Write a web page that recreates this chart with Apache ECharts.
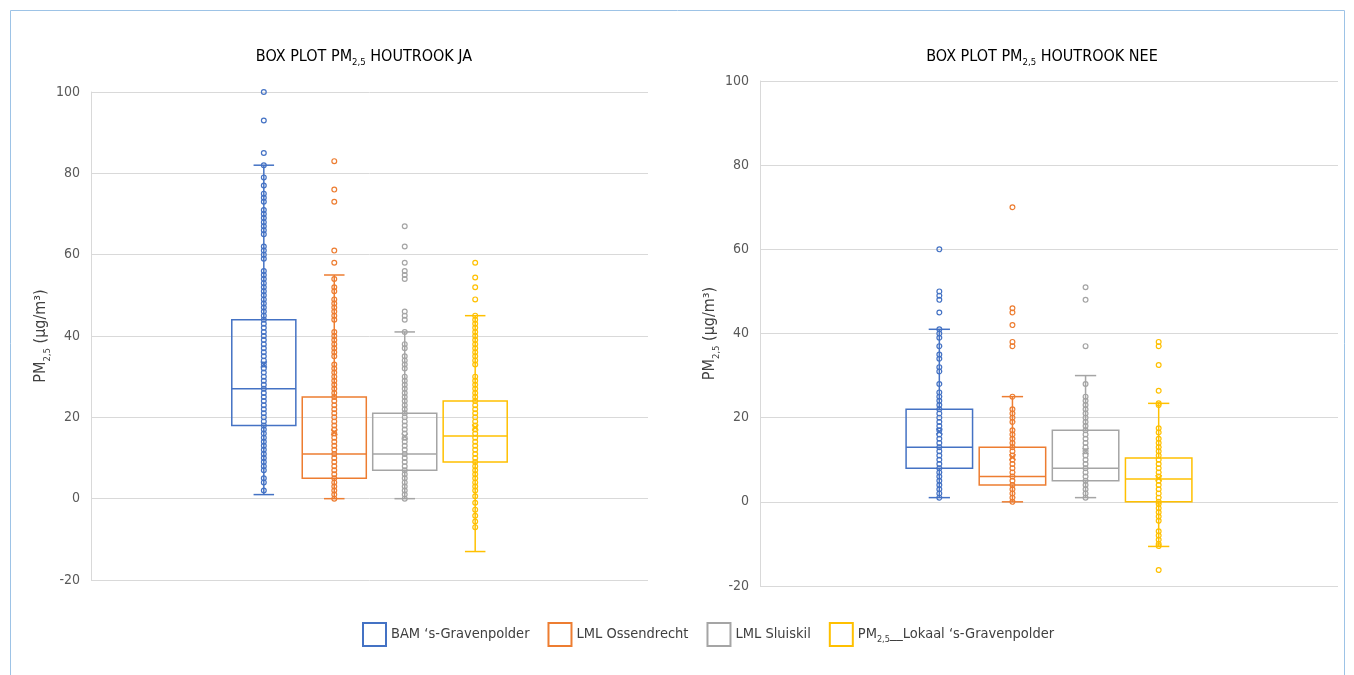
<!DOCTYPE html>
<html>
<head>
<meta charset="utf-8">
<script src="https://cdn.jsdelivr.net/npm/echarts@6/dist/echarts.min.js"></script>
<style>
html, body { margin: 0; padding: 0; background: #ffffff; }
#chart { width: 1354px; height: 675px; }
</style>
</head>
<body>
<div id="chart"></div>
<script>
// ---------- data ----------
const stations = ["BAM \u2018s-Gravenpolder", "LML Ossendrecht", "LML Sluiskil", "PM2,5__Lokaal \u2018s-Gravenpolder"];
const panelCategories = ["Houtrook ja", "Houtrook nee"];
const yTickLabels = [-20, 0, 20, 40, 60, 80, 100];

// Houtrook ja
const jaWhiskerLow  = [1, 0, 0, -13];
const jaQ1          = [18, 5, 7, 9];
const jaMedian      = [27, 11, 11, 15.4];
const jaQ3          = [44, 25, 21, 24];
const jaWhiskerHigh = [82, 55, 41, 45];
const jaMean        = [33, 16.3, 15.3, 17.5];

const jaPointsBAM = [2, 4, 5, 7, 8, 9, 10, 11, 12, 13, 14, 15, 16, 17, 18, 19, 20, 21, 22, 23, 24, 25, 26, 27, 28, 29, 30, 31, 32, 33, 34, 35, 36, 37, 38, 39, 40, 41, 42, 43, 44, 45, 46, 47, 48, 49, 50, 51, 52, 53, 54, 55, 56, 59, 60, 61, 62, 65, 66, 67, 68, 69, 70, 71, 73, 74, 75, 77, 79, 82, 85, 93, 100];
const jaPointsOssendrecht = [0, 1, 2, 3, 4, 5, 6, 7, 8, 9, 10, 11, 12, 13, 14, 15, 16, 17, 18, 19, 20, 21, 22, 23, 24, 25, 26, 27, 28, 29, 30, 31, 32, 33, 35, 36, 37, 38, 39, 40, 41, 44, 45, 46, 47, 48, 49, 51, 52, 54, 58, 61, 73, 76, 83];
const jaPointsSluiskil = [0, 1, 2, 3, 4, 5, 6, 7, 8, 9, 10, 11, 12, 13, 14, 15, 16, 17, 18, 19, 20, 21, 22, 23, 24, 25, 26, 27, 28, 29, 30, 32, 33, 34, 35, 37, 38, 41, 44, 45, 46, 54, 55, 56, 58, 62, 67];
const jaPointsLokaal = [-7, -5.6, -4.2, -2.7, -1, 0.6, 2, 3, 4, 5, 6, 7, 8, 9, 10, 11, 12, 13, 14, 15, 16, 17, 18, 19, 20, 21, 22, 23, 24, 25, 26, 27, 28, 29, 30, 33, 34, 35, 36, 37, 38, 39, 40, 41, 42, 43, 44, 45, 49, 52, 54.4, 58];

// Houtrook nee
const neeWhiskerLow  = [1, 0, 1, -10.6];
const neeQ1          = [8, 4, 5, 0];
const neeMedian      = [13, 6, 8, 5.4];
const neeQ3          = [22, 13, 17, 10.4];
const neeWhiskerHigh = [41, 25, 30, 23.4];
const neeMean        = [16.7, 10.6, 12, 5.6];

const neePointsBAM = [1, 2, 3, 4, 5, 6, 7, 8, 9, 10, 11, 12, 13, 14, 15, 16, 17, 18, 19, 20, 21, 22, 23, 24, 25, 26, 28, 31, 32, 34, 35, 37, 39, 40, 41, 45, 48, 49, 50, 60];
const neePointsOssendrecht = [0, 1, 2, 3, 4, 5, 6, 7, 8, 9, 10, 11, 12, 13, 14, 15, 16, 17, 19, 20, 21, 22, 25, 37, 38, 42, 45, 46, 70];
const neePointsSluiskil = [1, 2, 3, 4, 5, 6, 7, 8, 9, 10, 11, 12, 13, 14, 15, 16, 17, 18, 19, 20, 21, 22, 23, 24, 25, 28, 37, 48, 51];
const neePointsLokaal = [-16.2, -10.5, -10, -9, -8, -7, -4.5, -3.5, -2.5, -1.5, -0.5, 0, 1, 2, 3, 4, 5, 6, 7, 8, 9, 10, 11, 12, 13, 14, 15, 16.5, 17.5, 23, 23.4, 26.4, 32.5, 37, 38];

// ---------- styling ----------
const colors = ["#4472C4", "#ED7D31", "#A5A5A5", "#FFC000"];
const FONT = "'Liberation Sans Narrow', 'DejaVu Sans Condensed', 'Roboto', sans-serif";
const TEXT = "#404040";
const LABEL = "#595959";
const GRIDLINE = "#D9D9D9";
const OFFSET = 0.1265;   // spacing between boxes as fraction of band
const BOXW = 0.115;      // box width as fraction of band
const CAPW = 0.32;       // whisker cap as fraction of box width

const panels = [
  { low: jaWhiskerLow, q1: jaQ1, med: jaMedian, q3: jaQ3, high: jaWhiskerHigh, mean: jaMean,
    points: [jaPointsBAM, jaPointsOssendrecht, jaPointsSluiskil, jaPointsLokaal] },
  { low: neeWhiskerLow, q1: neeQ1, med: neeMedian, q3: neeQ3, high: neeWhiskerHigh, mean: neeMean,
    points: [neePointsBAM, neePointsOssendrecht, neePointsSluiskil, neePointsLokaal] }
];

function st(i, w) {
  return { stroke: colors[i], lineWidth: w, fill: 'none' };
}

function makeBoxRender(i) {
  return function (params, api) {
    const band = api.size([1, 0])[0];
    const cat = api.value(0);
    const cx = api.coord([cat, 0])[0] + (i - 1.5) * band * OFFSET;
    const w = band * BOXW, cw = w * CAPW;
    const y = k => api.coord([cat, api.value(k)])[1];
    const yLow = y(1), yQ1 = y(2), yMed = y(3), yQ3 = y(4), yHigh = y(5), yMean = y(6);
    const m = 3;
    return {
      type: 'group',
      children: [
        { type: 'line', shape: { x1: cx, y1: yQ3, x2: cx, y2: yHigh }, style: st(i, 1.5) },
        { type: 'line', shape: { x1: cx - cw / 2, y1: yHigh, x2: cx + cw / 2, y2: yHigh }, style: st(i, 1.5) },
        { type: 'line', shape: { x1: cx, y1: yQ1, x2: cx, y2: yLow }, style: st(i, 1.5) },
        { type: 'line', shape: { x1: cx - cw / 2, y1: yLow, x2: cx + cw / 2, y2: yLow }, style: st(i, 1.5) },
        { type: 'rect', shape: { x: cx - w / 2, y: yQ3, width: w, height: yQ1 - yQ3 }, style: st(i, 1.5) },
        { type: 'line', shape: { x1: cx - w / 2, y1: yMed, x2: cx + w / 2, y2: yMed }, style: st(i, 1.5) },
        { type: 'line', shape: { x1: cx - m, y1: yMean - m, x2: cx + m, y2: yMean + m }, style: st(i, 1.5) },
        { type: 'line', shape: { x1: cx - m, y1: yMean + m, x2: cx + m, y2: yMean - m }, style: st(i, 1.5) }
      ]
    };
  };
}

function makePointRender(i) {
  return function (params, api) {
    const band = api.size([1, 0])[0];
    const p = api.coord([api.value(0), api.value(1)]);
    return {
      type: 'circle',
      shape: { cx: p[0] + (i - 1.5) * band * OFFSET, cy: p[1], r: 2.4 },
      style: st(i, 1.2)
    };
  };
}

const series = [];
panels.forEach((pn, g) => {
  stations.forEach((name, i) => {
    series.push({
      type: 'custom', name: name, xAxisIndex: g, yAxisIndex: g,
      itemStyle: { color: colors[i] },
      renderItem: makeBoxRender(i),
      data: [[0, pn.low[i], pn.q1[i], pn.med[i], pn.q3[i], pn.high[i], pn.mean[i]]],
      z: 3, silent: true
    });
    series.push({
      type: 'custom', name: name, xAxisIndex: g, yAxisIndex: g,
      itemStyle: { color: colors[i] },
      renderItem: makePointRender(i),
      data: pn.points[i].map(v => [0, v]),
      z: 4, silent: true
    });
  });
});

const richText = {
  n: { fontFamily: FONT, fontSize: 16, color: TEXT, lineHeight: 22 },
  s: { fontFamily: FONT, fontSize: 9.5, color: TEXT, verticalAlign: 'bottom' }
};
const richAxis = {
  n: { fontFamily: FONT, fontSize: 16, color: TEXT, lineHeight: 22 },
  s: { fontFamily: FONT, fontSize: 9.5, color: TEXT, verticalAlign: 'bottom' }
};
const richLegend = {
  n: { fontFamily: FONT, fontSize: 14.5, color: TEXT, lineHeight: 20 },
  s: { fontFamily: FONT, fontSize: 9, color: TEXT, verticalAlign: 'bottom' }
};

function yAxis(g) {
  return {
    type: 'value', gridIndex: g,
    min: yTickLabels[0], max: yTickLabels[yTickLabels.length - 1],
    interval: yTickLabels[1] - yTickLabels[0],
    axisLine: { show: true, lineStyle: { color: GRIDLINE, width: 1 } },
    axisTick: { show: false },
    splitLine: { show: true, lineStyle: { color: GRIDLINE, width: 1 } },
    axisLabel: { color: LABEL, fontSize: 14, fontFamily: FONT, margin: 11 },
    name: '{n|PM}{s|2,5}{n| (\u00b5g/m\u00b3)}',
    nameLocation: 'middle', nameRotate: 90, nameGap: 38,
    nameTextStyle: { rich: richAxis }
  };
}

function xAxis(g) {
  return {
    type: 'category', gridIndex: g, data: [panelCategories[g]],
    show: false, boundaryGap: true
  };
}

const option = {
  animation: false,
  color: colors,
  textStyle: { fontFamily: FONT },
  grid: [
    { left: 91, right: 706, top: 92, bottom: 95 },
    { left: 760, right: 16, top: 81, bottom: 89 }
  ],
  xAxis: [xAxis(0), xAxis(1)],
  yAxis: [yAxis(0), yAxis(1)],
  legend: {
    left: 362, top: 622, padding: 0,
    itemWidth: 23, itemHeight: 23, itemGap: 18,
    icon: 'rect',
    data: stations.map((name, i) => ({
      name: name, icon: 'rect',
      itemStyle: { color: '#ffffff', borderColor: colors[i], borderWidth: 2 }
    })),
    formatter: function (name) {
      if (name.indexOf('PM2,5') === 0) {
        return '{n|PM}{s|2,5}{n|' + name.slice(5) + '}';
      }
      return '{n|' + name + '}';
    },
    textStyle: { fontFamily: FONT, fontSize: 14.5, color: TEXT, rich: richLegend },
    selectedMode: false
  },
  graphic: [
    { type: 'rect', shape: { x: 10.5, y: 10.5, width: 1334, height: 700 },
      style: { fill: 'none', stroke: '#9DC3E6', lineWidth: 1 }, silent: true },
    { type: 'text', x: 364, y: 57,
      style: { text: '{n|BOX PLOT PM}{s|2,5}{n| HOUTROOK JA}', align: 'center', verticalAlign: 'middle', rich: richText } },
    { type: 'text', x: 1042, y: 57,
      style: { text: '{n|BOX PLOT PM}{s|2,5}{n| HOUTROOK NEE}', align: 'center', verticalAlign: 'middle', rich: richText } }
  ],
  series: series
};

const chart = echarts.init(document.getElementById('chart'), null, { renderer: 'canvas' });
chart.setOption(option);
</script>
</body>
</html>
